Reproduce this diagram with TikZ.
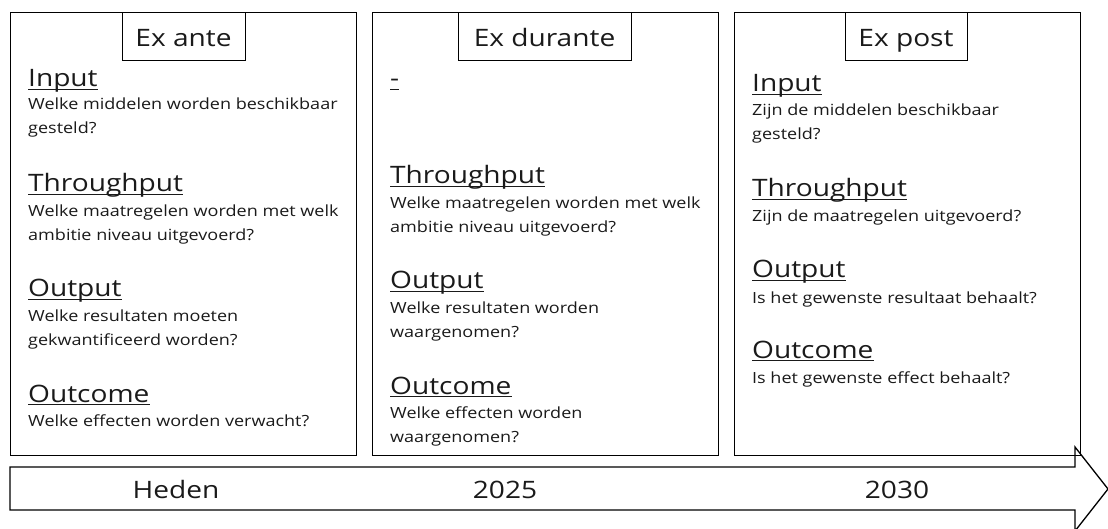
\documentclass[tikz,border=0pt]{standalone}
\usepackage{fontspec}
\setmainfont[FakeStretch=1.17]{Open Sans}
\definecolor{ink}{HTML}{1A1A1A}
\begin{document}
\begin{tikzpicture}[x=1pt,y=-1pt,
  frame/.style={draw=black,line width=1.3pt,anchor=north west,inner sep=0pt},
  titlebox/.style={draw=black,line width=1.3pt,fill=white,anchor=north west,inner sep=0pt},
  ttl/.style={text=ink,font=\fontsize{24}{28}\selectfont,anchor=base},
  hd/.style={text=ink,font=\fontsize{24}{27}\selectfont,anchor=base west,inner sep=0pt},
  bd/.style={text=ink,font=\fontsize{15.4}{18}\selectfont,anchor=base west,inner sep=0pt},
  tl/.style={text=ink,font=\fontsize{24}{28}\selectfont,anchor=base},
  uline/.style={draw=ink,line width=1.1pt},
  arrowline/.style={draw=black,line width=1.3pt,line join=miter}]
\useasboundingbox (0,0) rectangle (1108,529);
% main boxes
\node[frame,minimum width=346pt,minimum height=443pt] (b1) at (10,12) {};
\node[frame,minimum width=346pt,minimum height=443pt] (b2) at (372,12) {};
\node[frame,minimum width=346pt,minimum height=443pt] (b3) at (734,12) {};
% title boxes
\node[titlebox,minimum width=123pt,minimum height=48pt] (t1) at (122,12) {};
\node[titlebox,minimum width=173pt,minimum height=48pt] (t2) at (458,12) {};
\node[titlebox,minimum width=122pt,minimum height=48pt] (t3) at (845,12) {};
\node[ttl] (t1txt) at (183.5,47) {Ex ante};
\node[ttl] (t2txt) at (544.5,47) {Ex durante};
\node[ttl] (t3txt) at (906,47) {Ex post};
% box 1
\node[hd] (a1) at (28,87) {Input};
\node[bd] (a2) at (28,110) {Welke middelen worden beschikbaar};
\node[bd] (a3) at (28,134) {gesteld?};
\node[hd] (a4) at (28,192) {Throughput};
\node[bd] (a5) at (28,217) {Welke maatregelen worden met welk};
\node[bd] (a6) at (28,241) {ambitie niveau uitgevoerd?};
\node[hd] (a7) at (28,297) {Output};
\node[bd] (a8) at (28,321) {Welke resultaten moeten};
\node[bd] (a9) at (28,345) {gekwantificeerd worden?};
\node[hd] (a10) at (28,402) {Outcome};
\node[bd] (a11) at (28,426) {Welke effecten worden verwacht?};
% box 2
\node[hd] (c1) at (390,87) {-};
\node[hd] (c4) at (390,184) {Throughput};
\node[bd] (c5) at (390,209) {Welke maatregelen worden met welk};
\node[bd] (c6) at (390,233) {ambitie niveau uitgevoerd?};
\node[hd] (c7) at (390,289) {Output};
\node[bd] (c8) at (390,313) {Welke resultaten worden};
\node[bd] (c9) at (390,337) {waargenomen?};
\node[hd] (c10) at (390,394) {Outcome};
\node[bd] (c11) at (390,418) {Welke effecten worden};
\node[bd] (c12) at (390,442) {waargenomen?};
% box 3
\node[hd] (d1) at (752,92) {Input};
\node[bd] (d2) at (752,116) {Zijn de middelen beschikbaar};
\node[bd] (d3) at (752,140) {gesteld?};
\node[hd] (d4) at (752,197) {Throughput};
\node[bd] (d5) at (752,222) {Zijn de maatregelen uitgevoerd?};
\node[hd] (d7) at (752,278) {Output};
\node[bd] (d8) at (752,303) {Is het gewenste resultaat behaalt?};
\node[hd] (d10) at (752,358) {Outcome};
\node[bd] (d11) at (752,383) {Is het gewenste effect behaalt?};
% underlines of the headings
\foreach \n in {a1,a4,a7,a10,c1,c4,c7,c10,d1,d4,d7,d10}
  \draw[uline] ([yshift=-2.2pt]\n.base west) -- ([yshift=-2.2pt]\n.base east);
% timeline arrow
\draw[arrowline] (10,467) -- (1075,467) -- (1075,447) -- (1108,489) -- (1075,531) -- (1075,510) -- (10,510) -- cycle;
\node[tl] (h1) at (176,498) {Heden};
\node[tl] (h2) at (505,498) {2025};
\node[tl] (h3) at (897,498) {2030};
\end{tikzpicture}
\end{document}
